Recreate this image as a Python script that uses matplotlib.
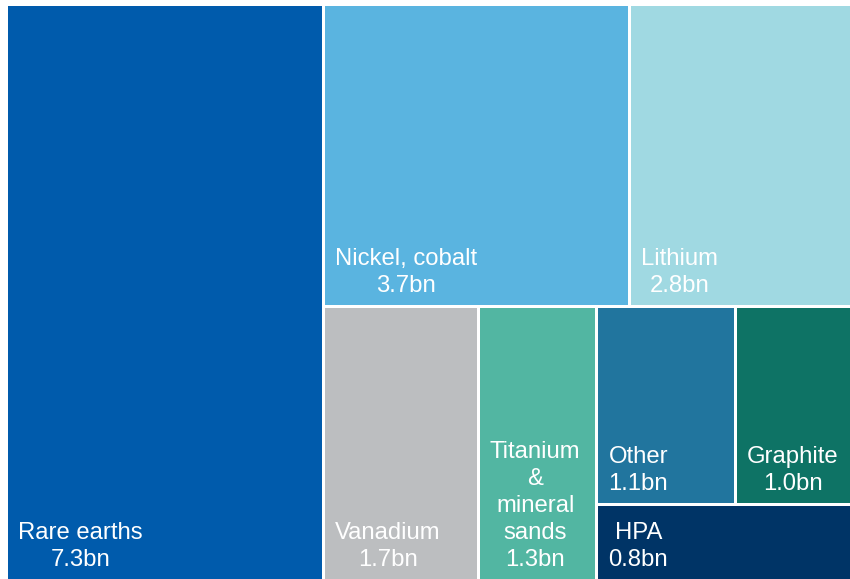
import matplotlib.pyplot as plt
from matplotlib.patches import Rectangle

plt.rcParams['font.family'] = ['Liberation Sans', 'DejaVu Sans']

# Export value by commodity (A$ bn)
names = ['Rare earths', 'Nickel, cobalt', 'Lithium', 'Vanadium',
         'Titanium\n&\nmineral\nsands', 'Other', 'Graphite', 'HPA']
values = [7.3, 3.7, 2.8, 1.7, 1.3, 1.1, 1.0, 0.8]
colors = ['#005BAC', '#5AB4E0', '#A0D9E2', '#BCBEC0',
          '#52B6A2', '#21759E', '#0E7365', '#003466']

GAP = 3          # white gutter between tiles, px
PAD_X, PAD_Y = 10, 8


def split(rect, weights, horizontal):
    """Cut rect (x, y, w, h) into strips proportional to weights."""
    x, y, w, h = rect
    total = sum(weights)
    out, pos = [], 0.0
    for wt in weights:
        frac = wt / total
        if horizontal:
            out.append((x + pos * w, y, frac * w, h))
        else:
            out.append((x, y + pos * h, w, frac * h))
        pos += frac
    return out


fig = plt.figure(figsize=(8.5, 5.79), dpi=100)
ax = fig.add_axes([0, 0, 1, 1])
ax.set_xlim(0, 850)
ax.set_ylim(579, 0)
ax.axis('off')

area = (6.5, 4.5, 855, 576)

# fixed nesting: big tile on the left, then two rows, last column split again
left, rest = split(area, [values[0], sum(values[1:])], True)
top, bottom = split(rest, [sum(values[1:3]), sum(values[3:])], False)
top_tiles = split(top, values[1:3], True)
van, tit, group = split(bottom, [values[3], values[4], sum(values[5:])], True)
upper, hpa = split(group, [sum(values[5:7]), values[7]], False)
oth, gra = split(upper, values[5:7], True)

rects = [left] + top_tiles + [van, tit, oth, gra, hpa]

for (x, y, w, h), name, val, col in zip(rects, names, values, colors):
    ax.add_patch(Rectangle((x + GAP / 2, y + GAP / 2), w - GAP, h - GAP,
                           facecolor=col, edgecolor='none'))
    ax.text(x + GAP / 2 + PAD_X, y + h - GAP / 2 - PAD_Y,
            f'{name}\n{val:.1f}bn', color='white', fontsize=17.2,
            ha='left', va='bottom', multialignment='center',
            linespacing=1.3)

fig.savefig('out.png', dpi=100, facecolor='white')
